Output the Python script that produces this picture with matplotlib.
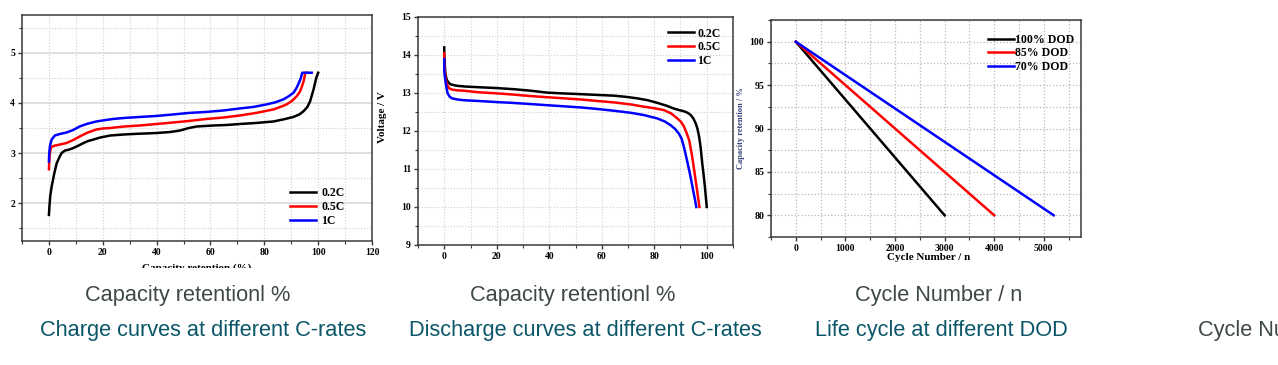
import matplotlib
matplotlib.use('Agg')
import matplotlib.pyplot as plt
from matplotlib.patches import Rectangle
from matplotlib.ticker import MultipleLocator

W, H = 1278, 365

# charge curves (capacity %, voltage V)
charge_x_02 = [0, 0.2, 0.5, 1, 2, 2.9, 4, 4.7, 5.9, 7.5, 9, 11, 12.8, 14.5, 16.5, 19, 22.7, 27.6,
               33, 40, 45, 48.7, 52, 54.9, 58, 61.1, 66, 71, 77, 83.4, 87, 90.8, 93, 94.5, 96, 97,
               98.3, 99.3, 100]
charge_y_02 = [1.77, 1.95, 2.15, 2.33, 2.6, 2.8, 2.93, 3.0, 3.05, 3.07, 3.1, 3.15, 3.2, 3.24, 3.27,
               3.31, 3.35, 3.37, 3.385, 3.4, 3.42, 3.45, 3.5, 3.53, 3.54, 3.55, 3.56, 3.58, 3.6,
               3.63, 3.67, 3.72, 3.77, 3.83, 3.92, 4.03, 4.27, 4.5, 4.6]
charge_x_05 = [0, 0.1, 0.3, 0.7, 1.2, 2.2, 4, 6.5, 9, 11.4, 14, 17.6, 20, 22.7, 28, 33.8, 40, 46.2,
               52, 58.5, 65, 71, 77, 83.4, 86, 88.3, 90.3, 92, 93.2, 94, 94.7, 95.2, 96]
charge_y_05 = [2.68, 2.8, 2.98, 3.1, 3.13, 3.15, 3.17, 3.2, 3.26, 3.33, 3.4, 3.47, 3.49, 3.5, 3.53,
               3.55, 3.58, 3.61, 3.64, 3.68, 3.71, 3.75, 3.8, 3.87, 3.92, 3.97, 4.04, 4.13, 4.22,
               4.33, 4.45, 4.6, 4.6]
charge_x_1 = [0, 0.1, 0.4, 1, 2.2, 4, 6.5, 9, 11.4, 14, 17.6, 20, 23.8, 28, 33.8, 40, 46.2, 52,
              58.5, 65, 71, 76, 80.9, 84, 87.1, 89, 90.8, 91.8, 92.6, 93.4, 94.1, 95, 97.6]
charge_y_1 = [2.83, 3.0, 3.15, 3.27, 3.35, 3.38, 3.41, 3.46, 3.53, 3.58, 3.63, 3.65, 3.68, 3.7,
              3.72, 3.74, 3.77, 3.8, 3.82, 3.85, 3.89, 3.92, 3.97, 4.01, 4.07, 4.13, 4.2, 4.28,
              4.37, 4.47, 4.6, 4.6, 4.6]

# discharge curves
dis_x_02 = [0, 0, 0.2, 0.4, 0.7, 1, 1.6, 2.3, 3.5, 4.8, 8, 13.7, 20, 26.5, 33, 39.2, 45, 51.9, 58,
            64.6, 69, 73.5, 77.5, 81.2, 84.5, 87.5, 89.5, 91.3, 92.7, 93.9, 94.9, 95.8, 96.5,
            97.1, 97.7, 98.3, 98.8, 99.2, 99.6, 100]
dis_y_02 = [14.2, 14.0, 13.8, 13.52, 13.42, 13.34, 13.28, 13.23, 13.21, 13.19, 13.17, 13.15,
            13.13, 13.1, 13.06, 13.01, 12.99, 12.97, 12.95, 12.93, 12.9, 12.86, 12.81, 12.74,
            12.67, 12.59, 12.55, 12.52, 12.48, 12.42, 12.33, 12.2, 12.05, 11.85, 11.55, 11.14,
            10.85, 10.6, 10.3, 10.0]
dis_x_05 = [0, 0, 0.2, 0.4, 0.8, 1.3, 2, 2.9, 5, 7.4, 13, 20.1, 26, 32.8, 39, 45.5, 52, 58.3, 65,
            71, 76, 80, 83.7, 86.5, 88.8, 90.2, 91.3, 92.3, 93.3, 94.4, 95.4, 96.3, 97.2]
dis_y_05 = [14.05, 13.85, 13.6, 13.43, 13.28, 13.18, 13.12, 13.09, 13.07, 13.06, 13.02, 12.99,
            12.96, 12.92, 12.89, 12.86, 12.83, 12.79, 12.75, 12.7, 12.64, 12.6, 12.55, 12.46,
            12.33, 12.24, 12.12, 11.95, 11.76, 11.35, 10.88, 10.45, 10.0]
dis_x_1 = [0, 0, 0.2, 0.4, 0.8, 1.3, 2, 2.9, 5, 7.4, 13, 20.1, 26, 32.8, 39, 45.5, 52, 58.3, 65,
           71, 76, 81.2, 84, 86.3, 88, 89.4, 90.4, 91.3, 92.3, 93.3, 94.1, 94.8, 95.5, 96]
dis_y_1 = [13.89, 13.6, 13.45, 13.34, 13.15, 12.99, 12.91, 12.86, 12.83, 12.81, 12.79, 12.76,
           12.74, 12.71, 12.68, 12.65, 12.62, 12.58, 12.53, 12.48, 12.42, 12.33, 12.25, 12.15,
           12.05, 11.93, 11.8, 11.58, 11.28, 10.97, 10.7, 10.44, 10.2, 10.0]

# life cycle at DOD
dod_labels = ['100% DOD', '85% DOD', '70% DOD']
dod_cycles = [[0, 3000], [0, 4000], [0, 5200]]
dod_capacity = [[100, 80], [100, 80], [100, 80]]

rate_labels = ['0.2C', '0.5C', '1C']
line_colors = ['black', '#ff0000', '#0000ff']

serif = 'Liberation Serif'
sans = 'Liberation Sans'
caption_gray = '#3f4848'
caption_teal = '#0b5668'


def px_axes(fig, left, right, top, bottom):
    return fig.add_axes([left / W, 1 - bottom / H, (right - left) / W, (bottom - top) / H])


def style_axes(ax, solid_major_y=False):
    for s in ax.spines.values():
        s.set_color('#3a3a3a')
        s.set_linewidth(1.1)
    ax.tick_params(which='both', direction='out', color='#3a3a3a', top=False, right=False)
    ax.tick_params(which='major', length=3, width=1, pad=2, labelsize=7)
    ax.tick_params(which='minor', length=2, width=0.8)
    for lab in ax.get_xticklabels() + ax.get_yticklabels():
        lab.set_fontfamily(serif)
        lab.set_fontweight('bold')
    ax.grid(which='both', color='#cfcfcf', linestyle=':', linewidth=0.8)
    if solid_major_y:
        ax.grid(which='major', axis='y', color='#dcdcdc', linestyle='-', linewidth=1.3)
    ax.set_axisbelow(True)


def add_legend(ax, anchor, pad):
    leg = ax.legend(loc='center left', bbox_to_anchor=anchor, frameon=False, borderpad=0,
                    borderaxespad=0, handlelength=2.2, handletextpad=pad, labelspacing=0.15,
                    prop={'family': serif, 'weight': 'bold', 'size': 8.5})
    return leg


fig = plt.figure(figsize=(W / 100, H / 100), dpi=100)

# chart 1 - charge
ax1 = px_axes(fig, 22, 372, 15, 241)
for xs, ys, c, lab in zip([charge_x_02, charge_x_05, charge_x_1], [charge_y_02, charge_y_05, charge_y_1],
                          line_colors, rate_labels):
    ax1.plot(xs, ys, color=c, lw=1.8, label=lab)
ax1.set_xlim(-10, 120)
ax1.set_ylim(1.25, 5.75)
ax1.xaxis.set_major_locator(MultipleLocator(20))
ax1.xaxis.set_minor_locator(MultipleLocator(10))
ax1.yaxis.set_major_locator(MultipleLocator(1))
ax1.yaxis.set_minor_locator(MultipleLocator(0.5))
style_axes(ax1, solid_major_y=True)
ax1.set_xlabel('Capacity retention (%)', fontfamily=serif, fontweight='bold', fontsize=8, va='top')
ax1.xaxis.set_label_coords(0.5, -0.1)
add_legend(ax1, (0.766, 0.15), 0.45)

# chart 2 - discharge
ax2 = px_axes(fig, 418, 733, 17, 245)
for xs, ys, c, lab in zip([dis_x_02, dis_x_05, dis_x_1], [dis_y_02, dis_y_05, dis_y_1],
                          line_colors, rate_labels):
    ax2.plot(xs, ys, color=c, lw=1.8, label=lab)
ax2.set_xlim(-10, 110)
ax2.set_ylim(9, 15)
ax2.xaxis.set_major_locator(MultipleLocator(20))
ax2.xaxis.set_minor_locator(MultipleLocator(10))
ax2.yaxis.set_major_locator(MultipleLocator(1))
ax2.yaxis.set_minor_locator(MultipleLocator(0.5))
style_axes(ax2)
ax2.set_ylabel('Voltage / V', fontfamily=serif, fontweight='bold', fontsize=8)
ax2.yaxis.set_label_coords(-0.0975, 0.56)
add_legend(ax2, (0.795, 0.867), 0.25)

# chart 3 - life cycle
ax3 = px_axes(fig, 771, 1081, 20, 237)
for xs, ys, c, lab in zip(dod_cycles, dod_capacity, line_colors, dod_labels):
    ax3.plot(xs, ys, color=c, lw=1.8, label=lab)
ax3.set_xlim(-500, 5750)
ax3.set_ylim(77.5, 102.5)
ax3.xaxis.set_major_locator(MultipleLocator(1000))
ax3.xaxis.set_minor_locator(MultipleLocator(500))
ax3.yaxis.set_major_locator(MultipleLocator(5))
ax3.yaxis.set_minor_locator(MultipleLocator(2.5))
style_axes(ax3)
ax3.grid(which='both', color='#b8b8b8', linestyle=':', linewidth=0.9)
ax3.set_xlabel('Cycle Number / n', fontfamily=serif, fontweight='bold', fontsize=8, va='top')
ax3.xaxis.set_label_coords(0.51, -0.075)
ax3.set_ylabel('Capacity retention / %', fontfamily=serif, fontweight='bold', fontsize=6,
               color='#34407a')
ax3.yaxis.set_label_coords(-0.085, 0.5)
add_legend(ax3, (0.70, 0.846), 0.05)

# chart 1 image is cut below its axis label
fig.patches.append(Rectangle((0, 0), 400 / W, (H - 268) / H, transform=fig.transFigure,
                             facecolor='white', edgecolor='none', zorder=10))

# captions below the pictures
cap_kw = dict(fontfamily=sans, fontsize=15.7, ha='center', va='baseline', zorder=11)
fig.text(188 / W, 1 - 301 / H, 'Capacity retentionl %', color=caption_gray, **cap_kw)
fig.text(203 / W, 1 - 336 / H, 'Charge curves at different C-rates', color=caption_teal, **cap_kw)
fig.text(573 / W, 1 - 301 / H, 'Capacity retentionl %', color=caption_gray, **cap_kw)
fig.text(585 / W, 1 - 336 / H, 'Discharge curves at different C-rates', color=caption_teal, **cap_kw)
fig.text(939 / W, 1 - 301 / H, 'Cycle Number / n', color=caption_gray, **cap_kw)
fig.text(941 / W, 1 - 336 / H, 'Life cycle at different DOD', color=caption_teal, **cap_kw)
fig.text(1198 / W, 1 - 336 / H, 'Cycle Number / n', color=caption_gray, fontfamily=sans,
         fontsize=15.7, ha='left', va='baseline', zorder=11)

plt.savefig('out.png', dpi=100)
